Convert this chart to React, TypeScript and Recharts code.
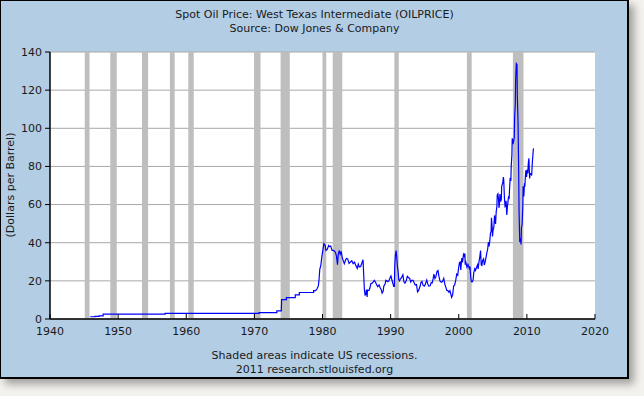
import React from 'react';
import { LineChart, Line, XAxis, YAxis, CartesianGrid, ReferenceArea } from 'recharts';

const titleLines = ['Spot Oil Price: West Texas Intermediate (OILPRICE)', 'Source: Dow Jones & Company'];
const footerLines = ['Shaded areas indicate US recessions.', '2011 research.stlouisfed.org'];
const yAxisLabel = '(Dollars per Barrel)';

const xTicks = [1940, 1950, 1960, 1970, 1980, 1990, 2000, 2010, 2020];
const yTicks = [0, 20, 40, 60, 80, 100, 120, 140];

// NBER recessions [start, end]
const recessions: [number, number][] = [
  [1945.1, 1945.8], [1948.85, 1949.8], [1953.5, 1954.4], [1957.6, 1958.3],
  [1960.3, 1961.1], [1969.95, 1970.9], [1973.85, 1975.2], [1980.0, 1980.55],
  [1981.5, 1982.9], [1990.55, 1991.2], [2001.2, 2001.9], [2007.95, 2009.5],
];

// [year, price] pairs, grouped by period
const oil1940s: [number, number][] = [
  [1945.9, 1.17], [1946.6, 1.17], [1946.6, 1.35], [1947.2, 1.35], [1947.2, 1.62],
  [1947.8, 1.62], [1947.8, 2.57],
];
const oil1950s: [number, number][] = [
  [1956.9, 2.57], [1956.9, 3.0],
];
const oil1970s: [number, number][] = [
  [1970.7, 3.0], [1970.7, 3.35], [1973.3, 3.35], [1973.3, 4.31], [1973.95, 4.31],
  [1974.0, 10.11], [1974.7, 10.11], [1974.7, 11.16], [1976.0, 11.16], [1976.0, 12.65],
  [1976.6, 12.65], [1976.6, 13.9], [1978.7, 13.9], [1978.7, 14.85], [1979.0, 14.85],
  [1979.2, 15.85], [1979.4, 17.5], [1979.5, 21], [1979.6, 26], [1979.75, 28], [1979.9, 32.5],
];
const oil1980s: [number, number][] = [
  [1980.1, 37], [1980.2, 39.5], [1980.4, 38.5], [1980.5, 36], [1980.7, 36.5], [1980.9, 38.5],
  [1981.0, 38], [1981.2, 38.3], [1981.4, 36], [1981.6, 36], [1981.75, 35.5], [1981.9, 35],
  [1982.05, 33], [1982.2, 28.5], [1982.3, 33.5], [1982.45, 35.9], [1982.6, 34], [1982.75, 35.5],
  [1982.9, 32], [1983.0, 31], [1983.2, 29], [1983.35, 30.6], [1983.5, 31.7], [1983.7, 31.5],
  [1983.9, 29.2], [1984.1, 29.9], [1984.3, 30.5], [1984.5, 29], [1984.7, 29.8], [1984.9, 28],
  [1985.1, 26.5], [1985.25, 28.8], [1985.4, 27.3], [1985.6, 27.5], [1985.8, 29.5], [1985.95, 31.1],
  [1986.05, 22.9], [1986.15, 15.4], [1986.25, 12.6], [1986.35, 12.8], [1986.45, 15.4], [1986.55, 11.6],
  [1986.6, 15.1], [1986.7, 14.9], [1986.85, 15.2], [1986.95, 16.1], [1987.1, 18.6], [1987.3, 18.8],
  [1987.45, 19.4], [1987.6, 20.3], [1987.75, 19.5], [1987.95, 18.0], [1988.1, 17.0], [1988.3, 17.9],
  [1988.45, 16.5], [1988.6, 15.5], [1988.75, 13.5], [1988.9, 14.5], [1989.0, 17.2], [1989.2, 18.5],
  [1989.3, 20.3], [1989.45, 20], [1989.6, 19.6], [1989.75, 20.1], [1989.95, 21.9],
];
const oil1990s: [number, number][] = [
  [1990.05, 22.6], [1990.2, 20.3], [1990.35, 18.4], [1990.45, 17.1], [1990.55, 17.1], [1990.6, 27.2],
  [1990.7, 33.7], [1990.8, 35.9], [1990.9, 32.3], [1991.0, 27.3], [1991.1, 25], [1991.2, 20.5],
  [1991.3, 19.9], [1991.45, 21.1], [1991.6, 21.7], [1991.8, 23.2], [1991.95, 19.5], [1992.1, 18.8],
  [1992.3, 20.2], [1992.45, 22.4], [1992.6, 21.7], [1992.8, 21.3], [1992.95, 19.4], [1993.1, 20.3],
  [1993.3, 20.3], [1993.45, 19.0], [1993.6, 17.8], [1993.8, 18.1], [1993.95, 14.2], [1994.1, 14.8],
  [1994.3, 16.9], [1994.45, 19.1], [1994.6, 19.7], [1994.75, 17.7], [1994.95, 17.2], [1995.1, 18.4],
  [1995.3, 20.4], [1995.45, 18.4], [1995.6, 17.3], [1995.8, 17.4], [1995.95, 19.0], [1996.1, 18.9],
  [1996.25, 21.3], [1996.35, 23.5], [1996.5, 21.2], [1996.65, 22.3], [1996.8, 24.9], [1996.95, 25.4],
  [1997.1, 22.2], [1997.25, 19.8], [1997.45, 19.3], [1997.6, 19.6], [1997.8, 21.3], [1997.95, 18.3],
  [1998.1, 16.7], [1998.25, 15.0], [1998.4, 14.9], [1998.55, 14.1], [1998.7, 14.9], [1998.85, 12.9],
  [1998.95, 11.3], [1999.1, 12.5], [1999.25, 17.3], [1999.4, 17.9], [1999.55, 20.1], [1999.7, 23.5],
  [1999.85, 22.9], [1999.95, 26.1],
];
const oil2000s: [number, number][] = [
  [2000.1, 29.6], [2000.2, 29.9], [2000.3, 25.7], [2000.45, 32.0], [2000.55, 29.7], [2000.7, 33.9],
  [2000.8, 33.1], [2000.9, 34.4], [2000.95, 28.5], [2001.05, 29.6], [2001.2, 27.2], [2001.35, 28.6],
  [2001.45, 27.6], [2001.55, 26.5], [2001.65, 27.5], [2001.75, 22.2], [2001.85, 19.6], [2001.95, 19.4],
  [2002.1, 20.3], [2002.2, 24.2], [2002.35, 26.3], [2002.45, 25.5], [2002.6, 26.9], [2002.75, 28.4],
  [2002.85, 26.3], [2002.95, 29.4], [2003.1, 32.9], [2003.2, 35.9], [2003.3, 28.4], [2003.4, 28.1],
  [2003.5, 30.7], [2003.65, 31.6], [2003.75, 28.3], [2003.9, 30.3], [2004.0, 32.2], [2004.1, 34.3],
  [2004.25, 36.7], [2004.35, 40.3], [2004.45, 38.0], [2004.55, 40.7], [2004.65, 44.9], [2004.75, 45.9],
  [2004.8, 53.1], [2004.9, 48.5], [2004.95, 43.3], [2005.05, 46.8], [2005.15, 48.0], [2005.25, 54.3],
  [2005.3, 53.0], [2005.4, 49.8], [2005.5, 56.4], [2005.6, 59.0], [2005.65, 65.0], [2005.75, 65.6],
  [2005.85, 62.3], [2005.9, 58.3], [2005.95, 59.4], [2006.05, 65.5], [2006.15, 61.6], [2006.25, 62.7],
  [2006.3, 69.4], [2006.4, 70.8], [2006.45, 71.0], [2006.55, 74.4], [2006.6, 73.1], [2006.7, 63.8],
  [2006.8, 58.9], [2006.85, 59.1], [2006.95, 62.0], [2007.05, 54.5], [2007.15, 59.3], [2007.2, 60.4],
  [2007.3, 63.9], [2007.4, 63.5], [2007.45, 67.5], [2007.55, 74.1], [2007.65, 72.4], [2007.7, 79.9],
  [2007.8, 85.8], [2007.85, 94.8], [2007.95, 91.7], [2008.05, 92.9], [2008.15, 95.4], [2008.2, 105.5],
  [2008.3, 112.6], [2008.35, 125.4], [2008.45, 133.9], [2008.55, 133.4], [2008.6, 116.7], [2008.7, 104.1],
  [2008.8, 76.6], [2008.85, 57.3], [2008.95, 41.1], [2009.05, 41.7], [2009.15, 39.1], [2009.2, 47.9],
  [2009.3, 49.6], [2009.4, 59.0], [2009.45, 69.6], [2009.55, 64.2], [2009.65, 71.1], [2009.7, 69.4],
  [2009.8, 75.7], [2009.85, 78.0], [2009.95, 74.5],
];
const oil2010s: [number, number][] = [
  [2010.05, 78.3], [2010.15, 76.4], [2010.2, 81.2], [2010.3, 84.3], [2010.4, 73.7], [2010.45, 75.3],
  [2010.55, 76.3], [2010.65, 76.6], [2010.7, 75.2], [2010.8, 81.9], [2010.85, 84.3], [2010.95, 89.2],
  [2011.0, 89.4],
];

const data = [...oil1940s, ...oil1950s, ...oil1970s, ...oil1980s, ...oil1990s, ...oil2000s, ...oil2010s]
  .map(([t, v]) => ({ t, v }));

const FONT = '"DejaVu Sans", Verdana, sans-serif';
const TEXT_COLOR = '#1a1a1a';

const XTick = (props: any) => {
  const { x, y, payload } = props;
  return (
    <g>
      <line x1={x} y1={y} x2={x} y2={y - 5} stroke="#000" strokeWidth={1} />
      <text x={x} y={y + 16} textAnchor="middle" fontSize={11} fontFamily={FONT} fill={TEXT_COLOR}>
        {payload.value}
      </text>
    </g>
  );
};

export default function App() {
  return (
    <div style={{ position: 'absolute', left: 0, top: 0, width: 644, height: 396, background: '#f3f2ee', overflow: 'hidden' }}>
      <div
        style={{
          position: 'absolute', left: 0, top: 0, width: 629, height: 379, boxSizing: 'border-box',
          background: '#b3cde4', borderTop: '1px solid #000', borderLeft: '1px solid #000',
          borderRight: '2px solid #000', borderBottom: '2px solid #000',
          boxShadow: '5px 5px 8px rgba(0,0,0,0.35)',
        }}
      />
      <div style={{ position: 'absolute', left: 0, top: 0 }}>
        <LineChart width={629} height={379} data={data} margin={{ top: 52, right: 34, left: 0, bottom: 0 }}>
          <CartesianGrid horizontal vertical={false} stroke="#a8a8a8" strokeWidth={1} fill="#ffffff" fillOpacity={1} />
          {recessions.map(([a, b], i) => (
            <ReferenceArea key={i} x1={a} x2={b} y1={0} y2={140} fill="#bebebe" fillOpacity={1} stroke="none" />
          ))}
          <XAxis
            dataKey="t"
            type="number"
            domain={[1940, 2020]}
            ticks={xTicks}
            allowDataOverflow
            height={60}
            tickSize={0}
            tickMargin={0}
            tickLine={false}
            axisLine={{ stroke: '#000', strokeWidth: 1.5 }}
            tick={<XTick />}
            interval={0}
          />
          <YAxis
            type="number"
            domain={[0, 140]}
            ticks={yTicks}
            width={50}
            tickSize={5}
            tickMargin={3}
            interval={0}
            axisLine={{ stroke: '#000', strokeWidth: 1.5 }}
            tickLine={{ stroke: '#000' }}
            tick={{ fontSize: 11, fontFamily: FONT, fill: TEXT_COLOR }}
          />
          <Line
            dataKey="v"
            type="linear"
            stroke="#0000ff"
            strokeWidth={1.2}
            dot={false}
            isAnimationActive={false}
          />
        </LineChart>
      </div>
      <div style={{ position: 'absolute', left: 0, top: 8, width: 629, textAlign: 'center', fontFamily: FONT, fontSize: 11, lineHeight: '14px', color: TEXT_COLOR }}>
        {titleLines.map((l, i) => <div key={i}>{l}</div>)}
      </div>
      <div style={{ position: 'absolute', left: 0, top: 349, width: 629, textAlign: 'center', fontFamily: FONT, fontSize: 11, lineHeight: '14px', color: TEXT_COLOR }}>
        {footerLines.map((l, i) => <div key={i}>{l}</div>)}
      </div>
      <div
        style={{
          position: 'absolute', left: 10, top: 185, transform: 'translate(-50%, -50%) rotate(-90deg)',
          whiteSpace: 'nowrap', fontFamily: FONT, fontSize: 11, color: TEXT_COLOR,
        }}
      >
        {yAxisLabel}
      </div>
    </div>
  );
}
